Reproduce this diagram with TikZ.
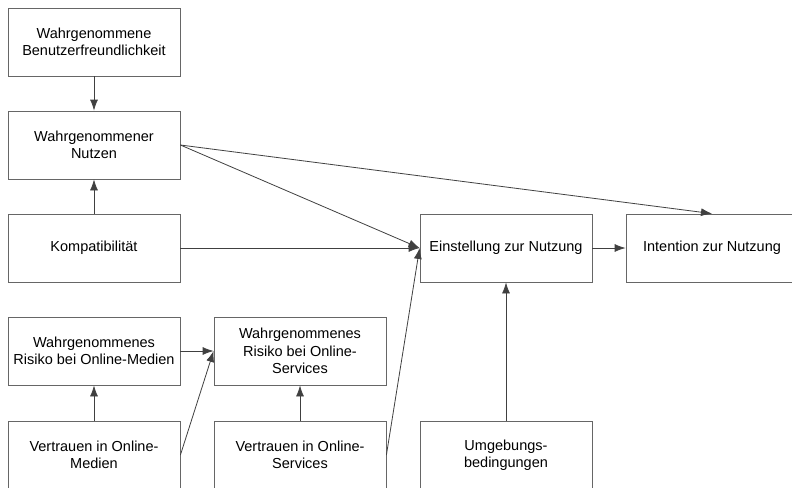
\documentclass[tikz,border=0pt]{standalone}
\usepackage{fontspec}
\setmainfont{Liberation Sans}
\usetikzlibrary{arrows.meta}
\begin{document}
\begin{tikzpicture}[x=1pt,y=-1pt,
  box/.style={draw=black!60, line width=0.8pt, minimum width=172pt, minimum height=68pt,
    inner sep=0pt, align=center, font=\fontsize{14.5}{17.5}\selectfont},
  arr/.style={draw=black!75, line width=0.8pt, -{Latex[length=11pt,width=8pt]}}]
\clip (0,0) rectangle (792,487);
\fill[white] (0,0) rectangle (792,487);
\node[box] (b1) at (94,42) {Wahrgenommene\\Benutzerfreundlichkeit};
\node[box] (nutzen) at (94,145) {Wahrgenommener\\Nutzen};
\node[box] (komp) at (94,248) {Kompatibilität};
\node[box] (einst) at (506,248) {Einstellung zur Nutzung};
\node[box] (intent) at (712,248) {Intention zur Nutzung};
\node[box] (rm) at (94,351) {Wahrgenommenes\\Risiko bei Online-Medien};
\node[box] (rs) at (300,351) {Wahrgenommenes\\Risiko bei Online-\\Services};
\node[box] (vm) at (94,455) {Vertrauen in Online-\\Medien};
\node[box] (vs) at (300,455) {Vertrauen in Online-\\Services};
\node[box] (umg) at (506,455) {Umgebungs-\\bedingungen};
\draw[arr] (b1) -- (nutzen);
\draw[arr] (komp) -- (nutzen);
\draw[arr] (nutzen.east) -- (einst.west);
\draw[arr] (nutzen.east) -- (intent.north);
\draw[arr] (komp) -- (einst);
\draw[arr] (einst) -- (intent);
\draw[arr] (umg) -- (einst);
\draw[arr] (rm) -- (rs);
\draw[arr] (vm.east) -- (rs.west);
\draw[arr] (vm) -- (rm);
\draw[arr] (vs) -- (rs);
\draw[arr] (vs.east) -- (einst.west);
\end{tikzpicture}
\end{document}
